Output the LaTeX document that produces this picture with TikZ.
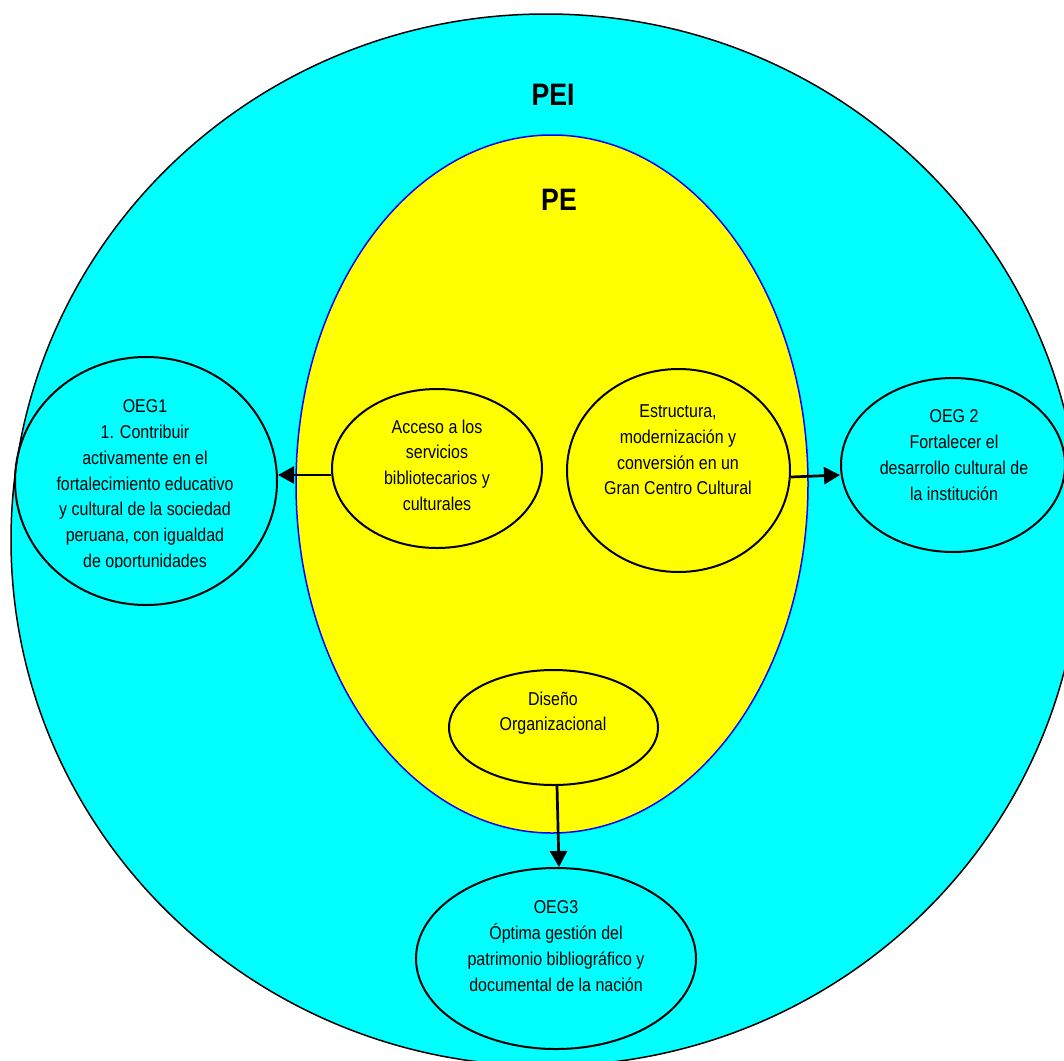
\documentclass[tikz,border=0pt]{standalone}
\usepackage{fontspec}
\setmainfont{Liberation Sans}[FakeStretch=0.86]
\usetikzlibrary{shapes.geometric,arrows.meta}
\definecolor{cyanfill}{RGB}{0,255,255}
\definecolor{yellowfill}{RGB}{255,255,0}
\definecolor{blueline}{RGB}{0,0,255}
\tikzset{
  oval/.style={ellipse, draw=black, line width=2pt, inner sep=0pt},
  txt/.style={align=center, inner sep=0pt, anchor=north,
    font=\fontsize{18.6}{25.8}\selectfont},
  title/.style={inner sep=0pt, anchor=base,
    font=\fontsize{31}{36}\selectfont\bfseries},
  conn/.style={line width=2.7pt, -{Triangle[length=16pt,width=17pt]}}
}
\begin{document}
\begin{tikzpicture}[x=1pt,y=-1pt]
\clip (0,0) rectangle (1064,1060);
% outer PEI ellipse
\node[ellipse, draw=black, line width=1.5pt, fill=cyanfill, inner sep=0pt,
  minimum width=1070pt, minimum height=1052pt] (pei) at (546,540) {};
% inner PE ellipse
\node[ellipse, draw=blueline, line width=1.5pt, fill=yellowfill, inner sep=0pt,
  minimum width=512pt, minimum height=698pt] (pe) at (552,484) {};
\node[title] (peit) at (553,105) {PEI};
\node[title] (pet) at (559,210.7) {PE};
% inner ellipses
\node[oval, minimum width=210pt, minimum height=159pt] (acc) at (437,468.5) {};
\node[oval, minimum width=223pt, minimum height=203pt] (est) at (678.5,470.5) {};
\node[oval, minimum width=209pt, minimum height=115pt] (dis) at (553.5,727.5) {};
% outer objectives
\node[oval, minimum width=262pt, minimum height=248pt] (oeg1) at (146,481) {};
\node[oval, minimum width=224pt, minimum height=174pt] (oeg2) at (953,465) {};
\node[oval, minimum width=280pt, minimum height=181pt] (oeg3) at (556,958.5) {};
% texts
\node[txt] (acct) at (437,419.5) {Acceso a los\\servicios\\bibliotecarios y\\culturales};
\node[txt] (estt) at (678,404.5) {Estructura,\\modernización y\\conversión en un\\Gran Centro Cultural};
\node[txt] (dist) at (553,691.5) {Diseño\\Organizacional};
\begin{scope}
\clip (0,0) rectangle (1064,567);
\node[txt] (oeg1t) at (145,399.5) {OEG1\\1. Contribuir\\activamente en el\\fortalecimiento educativo\\y cultural de la sociedad\\peruana, con igualdad\\de oportunidades};
\end{scope}
\node[txt] (oeg2t) at (954,409.5) {OEG 2\\Fortalecer el\\desarrollo cultural de\\la institución};
\node[txt] (oeg3t) at (556,900.5) {OEG3\\Óptima gestión del\\patrimonio bibliográfico y\\documental de la nación};
% connectors
\draw[conn] ([yshift=-6.5pt]acc.west) -- ([yshift=6pt]oeg1.east);
\draw[conn] ([yshift=-6.5pt]est.east) -- ([yshift=-10pt]oeg2.west);
\draw[conn] ([xshift=3.5pt]dis.south) -- ([xshift=3pt]oeg3.north);
\end{tikzpicture}
\end{document}
